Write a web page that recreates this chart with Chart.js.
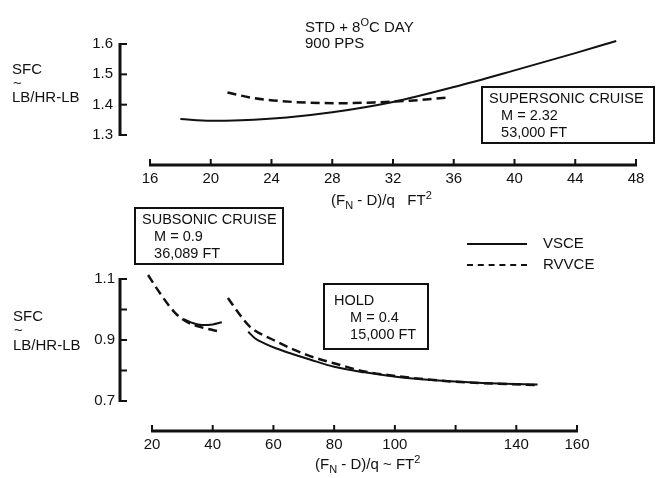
<!DOCTYPE html>
<html>
<head>
<meta charset="utf-8">
<script src="https://cdn.jsdelivr.net/npm/chart.js@4.4.1/dist/chart.umd.min.js"></script>
<style>
  body { margin: 0; background: #fff; }
  #wrap { position: relative; width: 660px; height: 478px; font-family: "Liberation Sans", Arial, sans-serif; color: #111; font-size: 15px; }
  canvas { position: absolute; left: 0; }
  .lbl { position: absolute; white-space: nowrap; line-height: 16px; }
  .box { position: absolute; border: 2px solid #111; box-sizing: border-box; line-height: 17px; white-space: nowrap; font-size: 14.5px; }
  sub { font-size: 11px; vertical-align: -4px; line-height: 0; }
  sup { font-size: 11px; vertical-align: 6px; line-height: 0; }
  .leg { position: absolute; width: 60px; height: 0; }
</style>
</head>
<body>
<div id="wrap">
  <canvas id="top-chart" width="660" height="230" style="top:0"></canvas>
  <canvas id="bottom-chart" width="660" height="238" style="top:240px"></canvas>

  <!-- textes du graphique du haut -->
  <div class="lbl" style="left:305px; top:19px;">STD + 8<sup>O</sup>C DAY</div>
  <div class="lbl" style="left:305px; top:35px;">900 PPS</div>
  <div class="lbl" style="left:12px; top:61px;">SFC</div>
  <div class="lbl" style="left:13px; top:75px;">~</div>
  <div class="lbl" style="left:12px; top:89px;">LB/HR-LB</div>
  <div class="lbl" style="left:331px; top:192px;">(F<sub>N</sub> - D)/q &nbsp;&nbsp;FT<sup>2</sup></div>
  <div class="box" style="left:481px; top:86px; width:174px; height:58px; padding:2px 0 0 6px;">
    SUPERSONIC CRUISE<br>&nbsp;&nbsp;&nbsp;M = 2.32<br>&nbsp;&nbsp;&nbsp;53,000 FT
  </div>

  <!-- textes du graphique du bas -->
  <div class="box" style="left:134px; top:207px; width:150px; height:58px; padding:2px 0 0 6px;">
    SUBSONIC CRUISE<br>&nbsp;&nbsp;&nbsp;M = 0.9<br>&nbsp;&nbsp;&nbsp;36,089 FT
  </div>
  <div class="box" style="left:323px; top:283px; width:106px; height:67px; padding:7px 0 0 9px;">
    HOLD<br>&nbsp;&nbsp;&nbsp;&nbsp;M = 0.4<br>&nbsp;&nbsp;&nbsp;&nbsp;15,000 FT
  </div>
  <div class="lbl" style="left:13px; top:308px;">SFC</div>
  <div class="lbl" style="left:14px; top:322px;">~</div>
  <div class="lbl" style="left:13px; top:337px;">LB/HR-LB</div>
  <div class="lbl" style="left:315px; top:456px;">(F<sub>N</sub> - D)/q ~ FT<sup>2</sup></div>

  <!-- légende -->
  <div class="leg" style="left:467px; top:243px; border-top:2px solid #111;"></div>
  <div class="lbl" style="left:543px; top:235px;">VSCE</div>
  <div class="leg" style="left:467px; top:264px; border-top:2px dashed #111;"></div>
  <div class="lbl" style="left:543px; top:256px;">RVVCE</div>
</div>

<script>
// Croisière supersonique (graphique du haut)
const superVsceX = [18, 20, 22, 25, 28, 32, 36, 40, 44, 46.7];
const superVsceSfc = [1.353, 1.347, 1.349, 1.358, 1.375, 1.409, 1.458, 1.513, 1.570, 1.610];
const superRvvceX = [21.1, 22.8, 25.4, 28.7, 31, 33.1, 35.5];
const superRvvceSfc = [1.440, 1.422, 1.409, 1.405, 1.408, 1.413, 1.423];

// Croisière subsonique et attente (graphique du bas)
const subVsceX = [30.5, 33, 36.5, 40, 43];
const subVsceSfc = [0.968, 0.957, 0.949, 0.951, 0.958];
const subRvvceX = [18.7, 22.6, 27.6, 31.5, 35.8, 43];
const subRvvceSfc = [1.113, 1.054, 0.989, 0.959, 0.943, 0.926];
const holdVsceX = [51.7, 54, 57, 61, 66, 72, 80, 90, 101, 112, 123, 134, 147];
const holdVsceSfc = [0.927, 0.905, 0.889, 0.872, 0.855, 0.836, 0.812, 0.794, 0.779, 0.769, 0.762, 0.757, 0.754];
const holdRvvceX = [45, 49, 52.3, 60, 71, 82, 90, 101, 120, 147];
const holdRvvceSfc = [1.038, 0.982, 0.943, 0.900, 0.851, 0.818, 0.797, 0.781, 0.763, 0.752];

// Graduations
const topXTicks = [16, 20, 24, 28, 32, 36, 40, 44, 48];
const topYTicks = [1.3, 1.4, 1.5, 1.6];
const bottomXTicks = [20, 40, 60, 80, 100, 120, 140, 160];
const bottomXLabels = ['20', '40', '60', '80', '100', '', '140', '160'];
const bottomYTicks = [0.7, 0.8, 0.9, 1.0, 1.1];
const bottomYLabels = ['0.7', '', '0.9', '', '1.1'];

const INK = '#111';
const FONT = { family: '"Liberation Sans", Arial, sans-serif', size: 15 };

/**
 * Dessine les axes en crochet (trait épais + petites graduations)
 */
const bracketAxes = {
    id: 'bracketAxes',
    afterDatasetsDraw(chart) {
        const { ctx, chartArea, scales } = chart;
        const yPix = scales.y.ticks.map(t => scales.y.getPixelForValue(t.value));
        const xPix = scales.x.ticks.map(t => scales.x.getPixelForValue(t.value));
        const left = chartArea.left;
        const bottom = chartArea.bottom;
        ctx.save();
        ctx.strokeStyle = INK;

        // axe vertical
        ctx.lineWidth = 3;
        ctx.beginPath();
        ctx.moveTo(left, Math.min(...yPix) - 1);
        ctx.lineTo(left, Math.max(...yPix) + 1);
        ctx.stroke();
        ctx.lineWidth = 2;
        yPix.forEach(p => {
            ctx.beginPath();
            ctx.moveTo(left, p);
            ctx.lineTo(left + 7, p);
            ctx.stroke();
        });

        // axe horizontal
        ctx.lineWidth = 3;
        ctx.beginPath();
        ctx.moveTo(Math.min(...xPix) - 1, bottom);
        ctx.lineTo(Math.max(...xPix) + 1, bottom);
        ctx.stroke();
        ctx.lineWidth = 2;
        xPix.forEach(p => {
            ctx.beginPath();
            ctx.moveTo(p, bottom);
            ctx.lineTo(p, bottom - 6);
            ctx.stroke();
        });
        ctx.restore();
    }
};

function toPoints(xs, ys) {
    return xs.map((x, i) => ({ x: x, y: ys[i] }));
}

function lineDataset(label, xs, ys, dashed) {
    return {
        label: label,
        data: toPoints(xs, ys),
        borderColor: INK,
        borderWidth: dashed ? 2.5 : 2,
        borderDash: dashed ? [9, 5] : [],
        pointRadius: 0,
        cubicInterpolationMode: 'monotone',
        fill: false
    };
}

function buildOptions(cfg) {
    return {
        responsive: false,
        animation: false,
        layout: { padding: cfg.padding },
        plugins: { legend: { display: false }, tooltip: { enabled: false } },
        scales: {
            x: {
                type: 'linear',
                min: cfg.xMin,
                max: cfg.xMax,
                grid: { display: false, drawTicks: false },
                border: { display: false },
                afterBuildTicks: s => { s.ticks = cfg.xTicks.map(v => ({ value: v })); },
                afterFit: s => { s.height = 40; },
                ticks: {
                    padding: cfg.xPad,
                    maxRotation: 0,
                    autoSkip: false,
                    color: INK,
                    font: FONT,
                    callback: (v, i) => cfg.xLabels ? cfg.xLabels[i] : String(v)
                }
            },
            y: {
                type: 'linear',
                min: cfg.yMin,
                max: cfg.yMax,
                grid: { display: false, drawTicks: false },
                border: { display: false },
                afterBuildTicks: s => { s.ticks = cfg.yTicks.map(v => ({ value: v })); },
                afterFit: s => { s.width = 120; },
                ticks: {
                    padding: cfg.yPad,
                    autoSkip: false,
                    color: INK,
                    font: FONT,
                    callback: (v, i) => cfg.yLabels ? cfg.yLabels[i] : v.toFixed(1)
                }
            }
        }
    };
}

new Chart(document.getElementById('top-chart').getContext('2d'), {
    type: 'line',
    data: {
        datasets: [
            lineDataset('VSCE', superVsceX, superVsceSfc, false),
            lineDataset('RVVCE', superRvvceX, superRvvceSfc, true)
        ]
    },
    options: buildOptions({
        padding: { top: 30, right: 24, bottom: 25, left: 0 },
        xMin: 14.025, xMax: 48, xTicks: topXTicks, xPad: 5,
        yMin: 1.2011, yMax: 1.6462, yTicks: topYTicks, yPad: 7
    }),
    plugins: [bracketAxes]
});

new Chart(document.getElementById('bottom-chart').getContext('2d'), {
    type: 'line',
    data: {
        datasets: [
            lineDataset('VSCE', subVsceX, subVsceSfc, false),
            lineDataset('RVVCE', subRvvceX, subRvvceSfc, true),
            lineDataset('VSCE', holdVsceX, holdVsceSfc, false),
            lineDataset('RVVCE', holdRvvceX, holdRvvceSfc, true)
        ]
    },
    options: buildOptions({
        padding: { top: 15, right: 24, bottom: 7, left: 0 },
        xMin: 9.46, xMax: 179.43, xTicks: bottomXTicks, xLabels: bottomXLabels, xPad: 5,
        yMin: 0.6016, yMax: 1.1787, yTicks: bottomYTicks, yLabels: bottomYLabels, yPad: 5
    }),
    plugins: [bracketAxes]
});
</script>
</body>
</html>
